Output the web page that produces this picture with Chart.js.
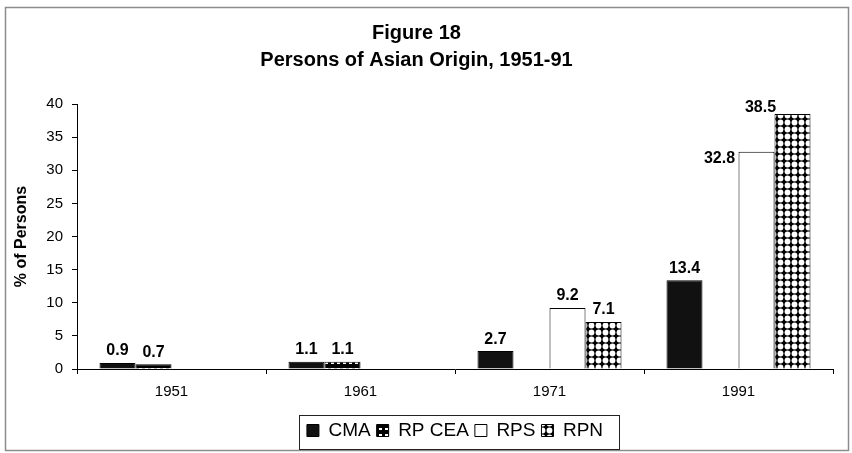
<!DOCTYPE html>
<html><head><meta charset="utf-8">
<script src="https://cdn.jsdelivr.net/npm/chart.js@4.4.0/dist/chart.umd.min.js"></script>
<style>html,body{margin:0;padding:0;background:#fff}#wrap{width:852px;height:453px;position:relative}</style>
</head><body><div id="wrap"><canvas id="c" width="852" height="453"></canvas></div>
<script>
// ---- data ----
const categories = ['1951', '1961', '1971', '1991'];
const seriesNames = ['CMA', 'RP CEA', 'RPS', 'RPN'];
const cmaValues = [0.9, 1.1, 2.7, 13.4];
const rpCeaValues = [0.7, 1.1, null, null];
const rpsValues = [null, null, 9.2, 32.8];
const rpnValues = [null, null, 7.1, 38.5];
const yMin = 0, yMax = 40, yStep = 5;
const titleLines = ['Figure 18', 'Persons of Asian Origin, 1951-91'];
const yTitle = '% of Persons';

// label nudges (Excel placed two labels beside bars): key "dataset-index" -> [dx, dy]
const labelNudges = { '2-3': [-37, 19], '3-3': [-32, 6] };

const FONT = "'Liberation Sans', Arial, sans-serif";

function makePattern(size, draw) {
  const c = document.createElement('canvas');
  c.width = size; c.height = size;
  const g = c.getContext('2d');
  draw(g, size);
  return document.getElementById('c').getContext('2d').createPattern(c, 'repeat');
}
const ceaPattern = makePattern(6, (g, s) => {
  g.fillStyle = '#000'; g.fillRect(0, 0, s, s);
  g.fillStyle = '#fff'; g.fillRect(1, 2, 3, 2);
});
const rpnPattern = makePattern(7, (g, s) => {
  g.fillStyle = '#000'; g.fillRect(0, 0, s, s);
  g.fillStyle = '#fff'; g.beginPath(); g.arc(3.5, 3.5, 2.9, 0, Math.PI * 2); g.fill();
});

const frame = {
  id: 'frame',
  beforeDraw(chart) {
    const ctx = chart.ctx;
    ctx.save();
    ctx.fillStyle = '#fff';
    ctx.fillRect(0, 0, chart.width, chart.height);
    ctx.strokeStyle = '#8c8c8c';
    ctx.lineWidth = 1.5;
    ctx.strokeRect(5.5, 7.5, 843, 443);
    ctx.restore();
  },
  afterDraw(chart) {
    const lg = chart.legend;
    if (!lg || !lg.legendHitBoxes || !lg.legendHitBoxes.length) return;
    const hb = lg.legendHitBoxes;
    const l = Math.min(...hb.map(b => b.left)) - 8;
    const r = Math.max(...hb.map(b => b.left + b.width)) + 16;
    const ctx = chart.ctx;
    ctx.save();
    ctx.strokeStyle = '#222';
    ctx.lineWidth = 1;
    ctx.strokeRect(Math.round(l) + 0.5, Math.round(lg.top) + 0.5, Math.round(r - l), Math.round(lg.height) - 1);
    ctx.restore();
  }
};

const valueLabels = {
  id: 'valueLabels',
  afterDatasetsDraw(chart) {
    const ctx = chart.ctx;
    ctx.save();
    ctx.font = "bold 16px " + FONT;
    ctx.fillStyle = '#000';
    ctx.textAlign = 'center';
    ctx.textBaseline = 'middle';
    chart.data.datasets.forEach((ds, di) => {
      const meta = chart.getDatasetMeta(di);
      meta.data.forEach((el, i) => {
        const v = ds.data[i];
        if (v === null || v === undefined) return;
        const n = labelNudges[di + '-' + i] || [0, 0];
        ctx.fillText(v.toFixed(1), el.x + n[0], el.y - 12 + n[1]);
      });
    });
    ctx.restore();
  }
};

const fills = ['#111111', ceaPattern, '#ffffff', rpnPattern];
const values = [cmaValues, rpCeaValues, rpsValues, rpnValues];

new Chart(document.getElementById('c'), {
  type: 'bar',
  data: {
    labels: categories,
    datasets: seriesNames.map((name, k) => ({
      label: name,
      data: values[k],
      backgroundColor: fills[k],
      borderColor: '#000',
      borderWidth: 1,
      categoryPercentage: 0.762,
      barPercentage: 1.0
    }))
  },
  options: {
    responsive: false,
    animation: false,
    devicePixelRatio: 1,
    layout: { padding: { top: 0, left: 0, right: 19, bottom: 3 } },
    plugins: {
      tooltip: { enabled: false },
      title: {
        display: true,
        text: titleLines,
        color: '#000',
        font: { family: FONT, size: 20, weight: 'bold', lineHeight: 1.35 },
        padding: { top: 19.5, bottom: 30.5 }
      },
      legend: {
        position: 'bottom',
        fullSize: false,
        labels: {
          color: '#000',
          font: { family: FONT, size: 19 },
          boxWidth: 12,
          boxHeight: 12,
          padding: 6
        }
      }
    },
    scales: {
      x: {
        grid: { drawOnChartArea: false, drawTicks: true, tickLength: 5, color: '#000', offset: true },
        border: { color: '#000', width: 1 },
        ticks: { color: '#000', font: { family: FONT, size: 15 }, padding: 9 },
        afterFit(s) { s.height = 46; }
      },
      y: {
        min: yMin, max: yMax,
        grid: { drawOnChartArea: false, drawTicks: true, tickLength: 5, color: '#000' },
        border: { color: '#000', width: 1 },
        ticks: { stepSize: yStep, color: '#000', font: { family: FONT, size: 15 }, padding: 9 },
        title: { display: true, text: yTitle, color: '#000', font: { family: FONT, size: 16, weight: 'bold' }, padding: { top: 12, bottom: 0 } },
        afterFit(s) { s.width = 77; }
      }
    }
  },
  plugins: [frame, valueLabels]
});
</script>
</body></html>
